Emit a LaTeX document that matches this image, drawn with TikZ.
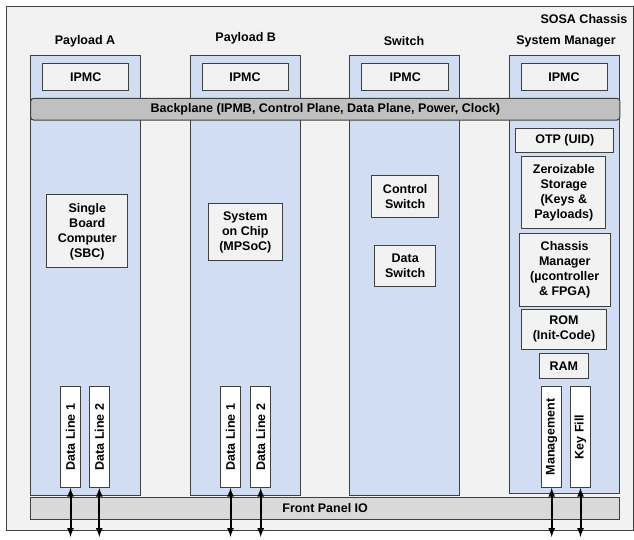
\documentclass[tikz,border=0pt]{standalone}
\usepackage{fontspec}
\setmainfont{Liberation Sans}
\usepackage{tikz}
\usetikzlibrary{arrows}

\definecolor{chassisgray}{RGB}{242,242,242}
\definecolor{cardblue}{RGB}{209,221,243}
\definecolor{boxgray}{RGB}{242,242,242}
\definecolor{planegray}{RGB}{192,192,192}
\definecolor{iogray}{RGB}{217,217,217}
\definecolor{edgegray}{RGB}{64,64,64}

\tikzset{
  card/.style={draw=edgegray, line width=1pt, fill=cardblue, inner sep=0pt},
  part/.style={draw=edgegray, line width=1pt, fill=boxgray, inner sep=0pt, align=center},
  line/.style={draw=edgegray, line width=1pt, fill=white, inner sep=0pt, rotate=90,
    minimum width=100.6pt, minimum height=20pt},
  title/.style={inner sep=0pt}
}

\begin{document}
\begin{tikzpicture}[x=1pt, y=-1pt, font=\fontsize{12.5}{15}\selectfont\bfseries]
\useasboundingbox (0,0) rectangle (634,539);

\node[draw=edgegray, line width=1pt, fill=chassisgray, minimum width=627pt, minimum height=524pt, inner sep=0pt] at (319.5,268) (chassis) {};
\node[title] at (584,19) (chassisname) {SOSA Chassis};

% cards
\node[card, minimum width=110pt, minimum height=440pt] at (85,275) (pla) {};
\node[card, minimum width=110pt, minimum height=440pt] at (245.7,275) (plb) {};
\node[card, minimum width=110pt, minimum height=440pt] at (404,275) (sw) {};
\node[card, minimum width=110pt, minimum height=438pt] at (564.7,274) (sm) {};

\node[title] at (85,41.7) (planame) {Payload A};
\node[title] at (245.7,38) (plbname) {Payload B};
\node[title] at (404,41) (swname) {Switch};
\node[title] at (566,41) (smname) {System Manager};

% IPMC
\node[part, minimum width=86.3pt, minimum height=26.7pt] at (85.8,76.7) (ipmca) {IPMC};
\node[part, minimum width=86pt, minimum height=26.7pt] at (245,76.7) (ipmcb) {IPMC};
\node[part, minimum width=87pt, minimum height=26.7pt] at (405.3,76.7) (ipmcsw) {IPMC};
\node[part, minimum width=86pt, minimum height=26.7pt] at (564,76.7) (ipmcsm) {IPMC};

\node[draw=edgegray, line width=1pt, fill=planegray, rounded corners=3pt, minimum width=589.3pt, minimum height=21.7pt, inner sep=0pt] at (325.3,109.2) (backplane) {Backplane (IPMB, Control Plane, Data Plane, Power, Clock)};

% inner parts
\node[part, minimum width=81.3pt, minimum height=72.7pt] at (87.3,231.3) (sbc) {Single\\Board\\Computer\\(SBC)};
\node[part, minimum width=74pt, minimum height=57.4pt] at (245.3,232) (soc) {System\\on Chip\\(MPSoC)};
\node[part, minimum width=67pt, minimum height=42.3pt] at (405.2,196.2) (ctrlsw) {Control\\Switch};
\node[part, minimum width=61pt, minimum height=41pt] at (405.2,266.2) (datasw) {Data\\Switch};

\node[part, minimum width=98.3pt, minimum height=24pt] at (564.8,140.3) (otp) {OTP (UID)};
\node[part, minimum width=84.3pt, minimum height=72.3pt] at (563.8,192.8) (zero) {Zeroizable\\Storage\\(Keys \&\\Payloads)};
\node[part, minimum width=91.3pt, minimum height=72.7pt] at (564.7,269.7) (cm) {Chassis\\Manager\\(µcontroller\\\& FPGA)};
\node[part, minimum width=84.6pt, minimum height=40pt] at (564,329.3) (rom) {ROM\\(Init-Code)};
\node[part, minimum width=49pt, minimum height=25pt] at (563.8,365.8) (ram) {RAM};

% data lines
\node[line] at (70.5,437) (adl1) {Data Line 1};
\node[line] at (99.3,437) (adl2) {Data Line 2};
\node[line] at (230.5,437) (bdl1) {Data Line 1};
\node[line] at (260.7,437) (bdl2) {Data Line 2};
\node[line] at (551.7,437) (mgmt) {Management};
\node[line] at (580.5,437) (keyfill) {Key Fill};

\node[draw=edgegray, line width=1pt, fill=iogray, minimum width=589pt, minimum height=21.6pt, inner sep=0pt] at (325.2,508.5) (frontio) {Front Panel IO};

\coordinate (oa1) at (70.5,537);
\coordinate (oa2) at (99.3,537);
\coordinate (ob1) at (230.5,537);
\coordinate (ob2) at (260.7,537);
\coordinate (om) at (551.7,537);
\coordinate (ok) at (580.5,537);

\path[<->, >=latex, line width=2pt] (adl1.west) edge (oa1);
\path[<->, >=latex, line width=2pt] (adl2.west) edge (oa2);
\path[<->, >=latex, line width=2pt] (bdl1.west) edge (ob1);
\path[<->, >=latex, line width=2pt] (bdl2.west) edge (ob2);
\path[<->, >=latex, line width=2pt] (mgmt.west) edge (om);
\path[<->, >=latex, line width=2pt] (keyfill.west) edge (ok);

\end{tikzpicture}
\end{document}
